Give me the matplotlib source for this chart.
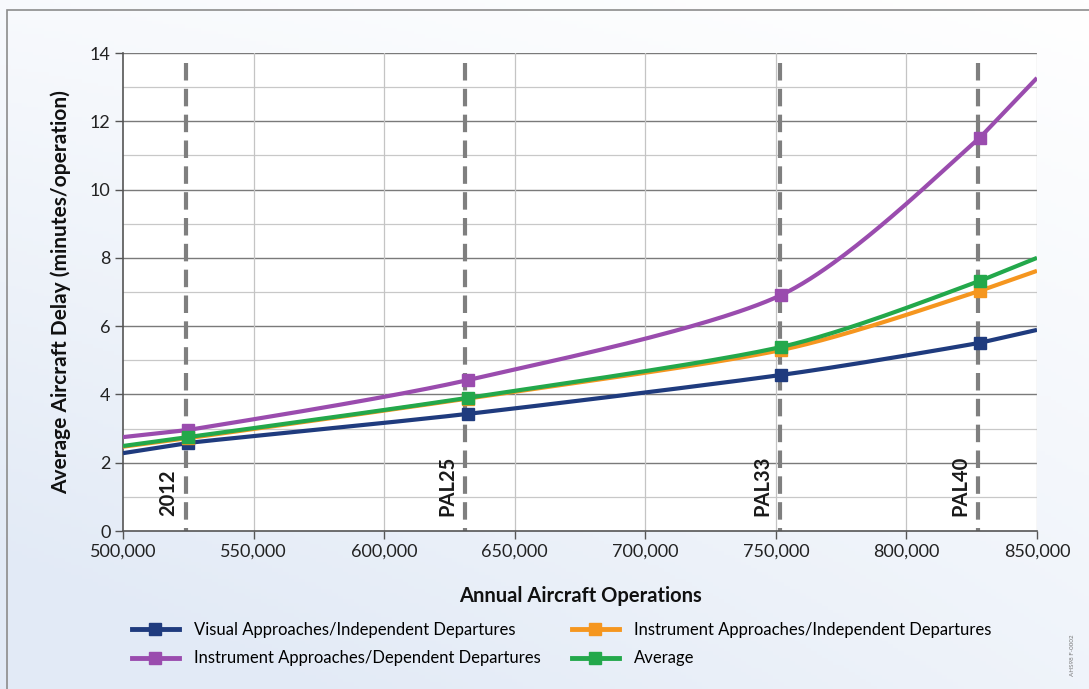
import numpy as np
import matplotlib
matplotlib.use("Agg")
import matplotlib.pyplot as plt
from matplotlib.patches import Rectangle
from matplotlib.lines import Line2D

plt.rcParams['font.family'] = ['Lato', 'DejaVu Sans']

# ---- data ----
ops = [500000, 525000, 632000, 752000, 828000, 850000]
visual_indep = [2.28, 2.58, 3.43, 4.57, 5.51, 5.89]
instr_dep = [2.75, 2.96, 4.42, 6.91, 11.51, 13.27]
instr_indep = [2.47, 2.72, 3.88, 5.30, 7.03, 7.62]
average = [2.49, 2.75, 3.90, 5.39, 7.32, 8.00]

scenario_ops = [524000, 631000, 751500, 827500]
scenario_labels = ['2012', 'PAL25', 'PAL33', 'PAL40']

series_names = ['Visual Approaches/Independent Departures',
                'Instrument Approaches/Dependent Departures',
                'Instrument Approaches/Independent Departures',
                'Average']
series_colors = ['#1f3b7e', '#9a4cae', '#f5961f', '#23a84b']

x_ticks = [500000, 550000, 600000, 650000, 700000, 750000, 800000, 850000]
y_ticks = [0, 2, 4, 6, 8, 10, 12, 14]


def smooth(xs, ys, n=60, f=1 / 7.5):
    """Smoothed line (Bezier through the points); the clipped edge segments are kept straight."""
    P = np.column_stack([xs, ys]).astype(float)
    k = len(P)
    out = []
    t = np.linspace(0, 1, n)[:, None]
    for i in range(k - 1):
        p1, p2 = P[i], P[i + 1]
        if i == 0 or i == k - 2:
            c1 = p1 + (p2 - p1) / 3.0
            c2 = p2 - (p2 - p1) / 3.0
        else:
            p0, p3 = P[i - 1], P[i + 2]
            c1 = p1 + (p2 - p0) * f
            c2 = p2 - (p3 - p1) * f
        seg = ((1 - t) ** 3) * p1 + 3 * ((1 - t) ** 2) * t * c1 + 3 * (1 - t) * t**2 * c2 + t**3 * p2
        out.append(seg if i == 0 else seg[1:])
    out = np.vstack(out)
    return out[:, 0], out[:, 1]


W, H = 1089, 689
fig = plt.figure(figsize=(W / 100, H / 100), dpi=100)

# background gradient
bg = fig.add_axes([0, 0, 1, 1], zorder=-10)
yy = np.linspace(0, 1, 200)[:, None]
xx = np.linspace(0, 1, 200)[None, :]
g = np.clip(0.55 * yy + 0.35 * (1 - xx) * yy + 0.25 * (1 - xx), 0, 1)
top = np.array([1.0, 1.0, 1.0])
bot = np.array([0xe2, 0xea, 0xf6]) / 255.0
img = top[None, None, :] * (1 - g[..., None]) + bot[None, None, :] * g[..., None]
bg.imshow(img, aspect='auto', extent=[0, 1, 0, 1], origin='upper')
bg.set_axis_off()
fig.add_artist(Rectangle((7 / W, -0.05), 1.1, 1 - 10 / H + 0.05, transform=fig.transFigure,
                         fill=False, edgecolor='#8c8c8c', linewidth=1.2))

ax = fig.add_axes([123 / W, 1 - 531 / H, (1037 - 123) / W, (531 - 53) / H])
ax.set_facecolor('white')
ax.set_xlim(500000, 850000)
ax.set_ylim(0, 14)

# grid
for v in np.arange(1, 14, 2):
    ax.axhline(v, color='#c8c8c8', lw=0.9, zorder=1)
for v in y_ticks[1:]:
    ax.axhline(v, color='#7a7a7a', lw=1.0, zorder=1)
for v in x_ticks[1:]:
    ax.axvline(v, color='#c4c4c4', lw=0.9, zorder=1)

ax.set_xticks(x_ticks)
ax.set_xticklabels([f'{v:,}' for v in x_ticks], fontsize=13, color='#222222')
ax.set_yticks(y_ticks)
ax.set_yticklabels([str(v) for v in y_ticks], fontsize=13, color='#222222')
ax.tick_params(direction='out', length=6, width=1.0, color='#555555', pad=3)
for s in ['top', 'right']:
    ax.spines[s].set_visible(False)
for s in ['left', 'bottom']:
    ax.spines[s].set_color('#555555')
    ax.spines[s].set_linewidth(1.2)

# scenario dashed lines & labels
for xv, lab in zip(scenario_ops, scenario_labels):
    ax.plot([xv, xv], [13.72, 0], color='#7f7f7f', lw=3.0, dashes=(4.2, 2.0),
            solid_capstyle='butt', dash_capstyle='butt', zorder=2)
    ax.text(xv - 3000, 0.45, lab, rotation=90, ha='right', va='bottom',
            fontsize=14.5, fontweight='bold', color='#1a1a1a', zorder=6)

# series (orange drawn before green so green is on top)
all_series = [visual_indep, instr_dep, instr_indep, average]
order = [0, 2, 3, 1]
for i in order:
    ys = all_series[i]
    sx, sy = smooth(ops, ys)
    ax.plot(sx, sy, color=series_colors[i], lw=3.0, zorder=3 + i * 0.1,
            solid_capstyle='butt', clip_on=True)
    ax.plot(ops[1:-1], ys[1:-1], ls='none', marker='s', ms=9,
            color=series_colors[i], zorder=3.05 + i * 0.1)

ax.set_xlabel('Annual Aircraft Operations', fontsize=14.5, fontweight='bold',
              color='#111111', labelpad=19)
ax.set_ylabel('Average Aircraft Delay (minutes/operation)', fontsize=15,
              fontweight='bold', color='#111111', labelpad=13)

handles = [Line2D([0], [0], color=c, lw=3.5, marker='s', ms=9) for c in series_colors]
leg = fig.legend(handles, series_names, ncol=2, loc='upper left',
                 bbox_to_anchor=(117 / W, 1 - 607 / H), frameon=False,
                 prop={'family': ['Lato', 'DejaVu Sans'], 'size': 12},
                 handlelength=2.8, columnspacing=1.9, labelspacing=0.75,
                 handletextpad=0.9)

fig.text(1072 / W, 1 - 655 / H, 'AHS98 F-0002', rotation=90, fontsize=4.5,
         color='#777777', ha='center', va='center')

fig.savefig('out.png', dpi=100)
